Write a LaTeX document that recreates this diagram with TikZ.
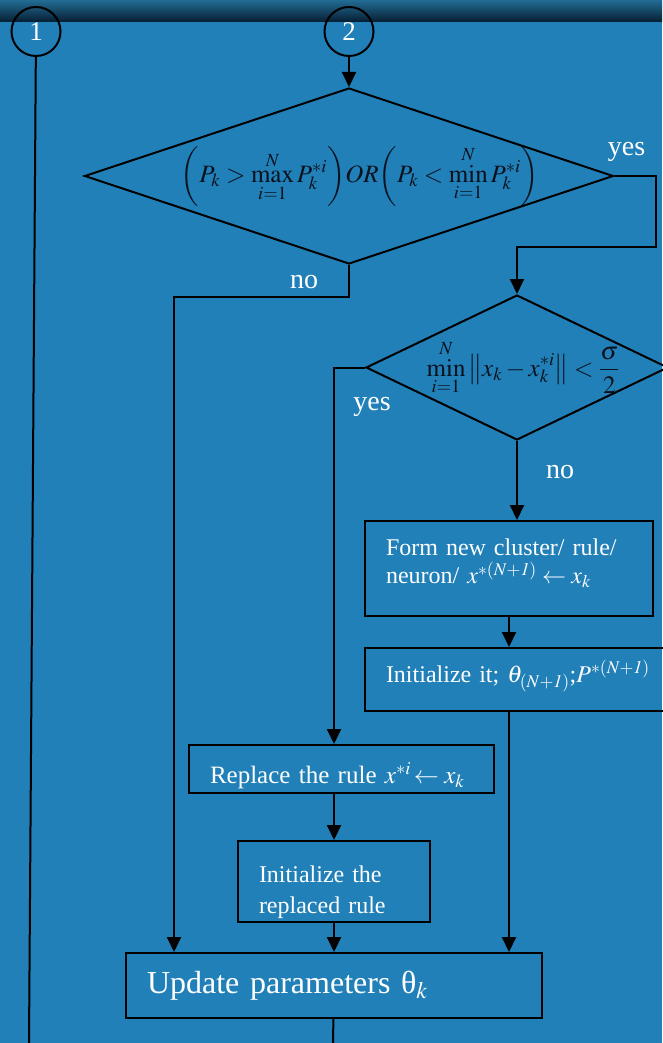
\documentclass[tikz,border=0pt]{standalone}
\usepackage{mathptmx}
\usepackage[no-math]{fontspec}
\setmainfont{Liberation Serif}
\usetikzlibrary{shapes.geometric,arrows.meta,positioning}
\definecolor{bg}{RGB}{33,128,184}
\definecolor{bandtop}{RGB}{34,108,148}
\definecolor{bandbot}{RGB}{6,30,50}
\definecolor{ink}{RGB}{10,18,30}
\begin{document}
\begin{tikzpicture}[x=1pt,y=-1pt,line width=2pt,every node/.style={text=white,font=\fontsize{24}{28}\selectfont},
box/.style={draw,rectangle,align=left,inner xsep=21pt,inner ysep=3pt},
decision/.style={draw,diamond,inner sep=0pt},
formula/.style={text=ink,inner sep=0pt,font=\fontsize{25}{30}\selectfont},
conn/.style={draw,circle,minimum size=49pt,inner sep=0pt,font=\fontsize{27}{30}\selectfont},
lbl/.style={font=\fontsize{28}{30}\selectfont},
arr/.style={-{Triangle[length=15pt,width=14pt]}}]
\fill[bg](0,0)rectangle(662,1043);
\shade[top color=bandtop,bottom color=bandbot](0,0)rectangle(662,22);
\useasboundingbox(0,0)rectangle(662,1043);
\node(C2)[conn] at (349,31.5){2};
\node(C1)[conn,left=262pt of C2]{1};
\node(D1)[decision,minimum width=529pt,minimum height=176pt,below=30pt of C2]{};
\node(F1)[formula] at ([xshift=11pt]D1){$\displaystyle\left(P_k>\max_{i=1}^{N}P_k^{*i}\right)\!OR\!\left(P_k<\min_{i=1}^{N}P_k^{*i}\right)$};
\node(D2)[decision,minimum width=302pt,minimum height=145pt,below=29pt of D1,xshift=168pt]{};
\node(F2)[formula] at ([xshift=6pt]D2){$\displaystyle\min_{i=1}^{N}\left\|x_k-x_k^{*i}\right\|<\frac{\sigma}{2}$};
\node(NEW)[box,text width=246pt,minimum height=95pt,below=79pt of D2,xshift=-8pt]{Form new cluster/ rule/\\neuron/ $x^{*\mathit{(N+1)}}\leftarrow x_k$\rule[-14pt]{0pt}{14pt}};
\node(INIT)[box,text width=268pt,minimum height=63pt,below=30pt of NEW.south west,anchor=north west]{Initialize it; $\theta_{\mathit{(N+1)}}$;$P^{*\mathit{(N+1)}}$\rule[-16pt]{0pt}{16pt}};
\node(REP)[box,text width=263pt,minimum height=48pt,anchor=north west,font=\fontsize{25}{28}\selectfont] at (188,744){\rule{0pt}{35pt}Replace the rule $x^{*i}\!\leftarrow x_k$};
\node(RINIT)[box,text width=150pt,minimum height=81pt,inner ysep=0pt,below=46pt of REP,xshift=-7.5pt,font=\fontsize{24}{31}\selectfont]{\rule{0pt}{38pt}Initialize the\\replaced rule};
\node(UPD)[box,text width=374pt,minimum height=65pt,below=29pt of RINIT,font=\fontsize{32}{34}\selectfont]{Update parameters θ$_k$};
\coordinate(BOT) at (333,1043);
\coordinate(BOT1) at (29,1043);
\node[lbl] at ([xshift=12pt,yshift=24pt]D1.east){yes};
\node[lbl] at ([xshift=-45pt,yshift=-17pt]D1.south){no};
\node[lbl] at ([xshift=7pt,yshift=-39pt]D2.west){yes};
\node[lbl] at ([xshift=43pt,yshift=-31pt]D2.south){no};
\draw[arr](C2)--(D1);
\draw[arr](D1.east)--++(41,0)--++(0,71)-|(D2.north);
\draw[arr](D1.south)--++(0,32)-|([xshift=-160pt]UPD.north);
\draw[arr](D2.west)-|(REP.north-|RINIT.north);
\draw[arr](D2.south)--(D2.south|-NEW.north);
\draw[arr](NEW)--(NEW|-INIT.north);
\draw[arr](INIT.south-|NEW.south)--(NEW.south|-UPD.north);
\draw[arr](REP.south-|RINIT.north)--(RINIT.north);
\draw[arr](RINIT)--(UPD);
\draw(UPD)--(BOT);
\draw(C1)--(BOT1);
\end{tikzpicture}
\end{document}
